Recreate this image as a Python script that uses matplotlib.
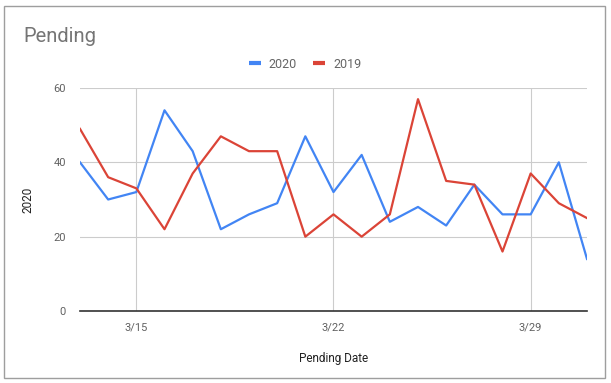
import matplotlib
matplotlib.use("Agg")
import matplotlib.pyplot as plt
import matplotlib.dates as mdates
from matplotlib.patches import Rectangle
import datetime as dt

# dane
dates = [dt.date(2020, 3, d) for d in range(13, 32)]
pending_2020 = [40, 30, 32, 54, 43, 22, 26, 29, 47, 32, 42, 24, 28, 23, 34, 26, 26, 40, 14]
pending_2019 = [49, 36, 33, 22, 37, 47, 43, 43, 20, 26, 20, 26, 57, 35, 34, 16, 37, 29, 25]
y_ticks = [0, 20, 40, 60]
x_ticks = [dt.date(2020, 3, 15), dt.date(2020, 3, 22), dt.date(2020, 3, 29)]

plt.rcParams['font.family'] = ['Roboto', 'DejaVu Sans']

fig = plt.figure(figsize=(6.11, 3.83), dpi=100)
ax = fig.add_axes([80 / 611, 72 / 383, 507 / 611, 223 / 383])

# ramka wokol calego wykresu
fig.patches.append(Rectangle((4 / 611, 5 / 383), 601 / 611, 372 / 383,
                             transform=fig.transFigure, fill=False,
                             edgecolor='#9e9e9e', linewidth=1))

ax.plot(dates, pending_2020, color='#4285F4', linewidth=1.6, label='2020')
ax.plot(dates, pending_2019, color='#DB4437', linewidth=1.6, label='2019')

ax.set_xlim(dates[0], dates[-1])
ax.set_ylim(0, 60)
ax.set_yticks(y_ticks)
ax.set_xticks(x_ticks)
ax.xaxis.set_major_formatter(mdates.DateFormatter('%-m/%-d'))

ax.grid(True, color='#cccccc', linewidth=0.8)
ax.set_axisbelow(True)
for s in ['top', 'right', 'left']:
    ax.spines[s].set_visible(False)
ax.spines['bottom'].set_color('#333333')
ax.spines['bottom'].set_linewidth(1.2)
ax.tick_params(length=0, labelsize=8, labelcolor='#616161', pad=8)
ax.tick_params(axis='y', pad=10)

ax.set_xlabel('Pending Date', fontsize=8.5, color='#222222', labelpad=14)
ax.set_ylabel('2020', fontsize=8.5, color='#222222', labelpad=14)

fig.text(23 / 611, 1 - 36 / 383, 'Pending', fontsize=14.5, color='#757575', va='center')

leg = fig.legend(loc='center', bbox_to_anchor=(305 / 611, 1 - 64 / 383), ncol=2, frameon=False,
                 fontsize=9, handlelength=0.95, columnspacing=1.3,
                 handletextpad=0.65, labelcolor='#666666')
for h in leg.legend_handles:
    h.set_linewidth(3)
    h.set_solid_capstyle('butt')

fig.savefig('out.png', dpi=100)
